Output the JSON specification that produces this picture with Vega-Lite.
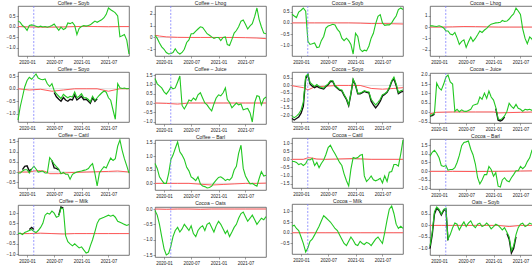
{
"$schema":"https://vega.github.io/schema/vega-lite/v6.json",
"padding":{"left":1,"top":0,"right":0,"bottom":0},
"background":"white",
"data":{"format":{"parse":{"d":"utc:'%Y-%m-%d'"}},"values":[
{"p":1,"d":"2019-11-01","g":0.27,"r":0},{"p":1,"d":"2019-11-16","g":0.2},{"p":1,"d":"2019-12-01","g":0.05},{"p":1,"d":"2019-12-16","g":-0.03},{"p":1,"d":"2020-01-01","g":-0.18},{"p":1,"d":"2020-01-16","g":0.05,"r":-0.02},{"p":1,"d":"2020-02-01","g":0.08},{"p":1,"d":"2020-02-16","g":0.05},{"p":1,"d":"2020-03-01","g":0.02},{"p":1,"d":"2020-03-16","g":-0.02},{"p":1,"d":"2020-04-01","g":0.02,"r":-0.03},{"p":1,"d":"2020-04-16","g":-0.02},{"p":1,"d":"2020-05-01","g":0},{"p":1,"d":"2020-05-16","g":-0.03},{"p":1,"d":"2020-06-01","g":0},{"p":1,"d":"2020-06-16","g":0.05,"r":-0.03},{"p":1,"d":"2020-07-01","g":0.12},{"p":1,"d":"2020-07-16","g":-0.03},{"p":1,"d":"2020-08-01","g":-0.18},{"p":1,"d":"2020-08-16","g":-0.03},{"p":1,"d":"2020-09-01","g":-0.14,"r":-0.02},{"p":1,"d":"2020-09-16","g":-0.08},{"p":1,"d":"2020-10-01","g":0.17},{"p":1,"d":"2020-10-16","g":0.14},{"p":1,"d":"2020-11-01","g":0.2},{"p":1,"d":"2020-11-16","g":0.05,"r":0},{"p":1,"d":"2020-12-01","g":-0.38},{"p":1,"d":"2020-12-16","g":-0.08},{"p":1,"d":"2021-01-01","g":0},{"p":1,"d":"2021-01-16","g":0.05},{"p":1,"d":"2021-02-01","g":0.02,"r":0.01},{"p":1,"d":"2021-02-16","g":0.05},{"p":1,"d":"2021-03-01","g":0.08},{"p":1,"d":"2021-03-16","g":0.17},{"p":1,"d":"2021-04-01","g":0.26},{"p":1,"d":"2021-04-16","g":0.2,"r":0},{"p":1,"d":"2021-05-01","g":0.26},{"p":1,"d":"2021-05-16","g":0.32},{"p":1,"d":"2021-06-01","g":0.42},{"p":1,"d":"2021-06-16","g":0.58},{"p":1,"d":"2021-07-01","g":0.88,"r":-0.01},{"p":1,"d":"2021-07-16","g":0.8},{"p":1,"d":"2021-08-01","g":0.73},{"p":1,"d":"2021-08-16","g":0.65},{"p":1,"d":"2021-09-01","g":0.5},{"p":1,"d":"2021-09-16","g":-0.48,"r":0},{"p":1,"d":"2021-10-01","g":-0.44},{"p":1,"d":"2021-10-16","g":-0.38},{"p":1,"d":"2021-11-01","g":-0.64},{"p":1,"d":"2021-11-16","g":-1.3,"r":0},
{"p":2,"d":"2019-11-01","g":0.19,"r":0.19},{"p":2,"d":"2019-11-16","g":-0.08},{"p":2,"d":"2019-12-01","g":-0.48,"r":0.12},{"p":2,"d":"2019-12-16","g":-0.8},{"p":2,"d":"2020-01-01","g":-1.01},{"p":2,"d":"2020-01-16","g":-1.28,"r":0.05},{"p":2,"d":"2020-02-01","g":-1.41},{"p":2,"d":"2020-02-16","g":-1.36},{"p":2,"d":"2020-03-01","g":-1.28},{"p":2,"d":"2020-03-16","g":-0.96},{"p":2,"d":"2020-04-01","g":-1.28,"r":0.01},{"p":2,"d":"2020-04-16","g":-1.41},{"p":2,"d":"2020-05-01","g":-1.28},{"p":2,"d":"2020-05-16","g":-1.01},{"p":2,"d":"2020-06-01","g":-0.43},{"p":2,"d":"2020-06-16","g":-0.21,"r":0},{"p":2,"d":"2020-07-01","g":0.32},{"p":2,"d":"2020-07-16","g":0.32},{"p":2,"d":"2020-08-01","g":0.53},{"p":2,"d":"2020-08-16","g":0.72},{"p":2,"d":"2020-09-01","g":0.91,"r":0},{"p":2,"d":"2020-09-16","g":0.85},{"p":2,"d":"2020-10-01","g":0.59},{"p":2,"d":"2020-10-16","g":0.32},{"p":2,"d":"2020-11-01","g":0.19},{"p":2,"d":"2020-11-16","g":0.05,"r":0},{"p":2,"d":"2020-12-01","g":-0.08},{"p":2,"d":"2020-12-16","g":0},{"p":2,"d":"2021-01-01","g":0},{"p":2,"d":"2021-01-16","g":-0.27},{"p":2,"d":"2021-02-01","g":0,"r":0},{"p":2,"d":"2021-02-16","g":0.05},{"p":2,"d":"2021-03-01","g":-0.61},{"p":2,"d":"2021-03-16","g":-0.69},{"p":2,"d":"2021-04-01","g":-0.16},{"p":2,"d":"2021-04-16","g":0.37,"r":0},{"p":2,"d":"2021-05-01","g":0.59},{"p":2,"d":"2021-05-16","g":0.91},{"p":2,"d":"2021-06-01","g":1.39},{"p":2,"d":"2021-06-16","g":1.49},{"p":2,"d":"2021-07-01","g":1.12,"r":-0.02},{"p":2,"d":"2021-07-16","g":0.72},{"p":2,"d":"2021-08-01","g":0.99},{"p":2,"d":"2021-08-16","g":1.17},{"p":2,"d":"2021-09-01","g":1.79},{"p":2,"d":"2021-09-16","g":2.51,"r":-0.05},{"p":2,"d":"2021-10-01","g":1.52},{"p":2,"d":"2021-10-16","g":0.91},{"p":2,"d":"2021-11-01","g":0.37},{"p":2,"d":"2021-11-16","g":0.32,"r":-0.1},
{"p":3,"d":"2019-11-01","g":0.39,"r":0},{"p":3,"d":"2019-11-16","g":0.31},{"p":3,"d":"2019-12-01","g":0.24},{"p":3,"d":"2019-12-16","g":0.49},{"p":3,"d":"2020-01-01","g":0.57},{"p":3,"d":"2020-01-16","g":0.67,"r":0},{"p":3,"d":"2020-02-01","g":0.53},{"p":3,"d":"2020-02-16","g":-0.83},{"p":3,"d":"2020-03-01","g":-0.97},{"p":3,"d":"2020-03-16","g":-0.94},{"p":3,"d":"2020-04-01","g":-0.9,"r":0},{"p":3,"d":"2020-04-16","g":-1.11},{"p":3,"d":"2020-05-01","g":-1.09},{"p":3,"d":"2020-05-16","g":-0.8},{"p":3,"d":"2020-06-01","g":-0.61},{"p":3,"d":"2020-06-16","g":-0.23,"r":0},{"p":3,"d":"2020-07-01","g":-0.14},{"p":3,"d":"2020-07-16","g":-0.11},{"p":3,"d":"2020-08-01","g":-0.06},{"p":3,"d":"2020-08-16","g":-0.09},{"p":3,"d":"2020-09-01","g":-0.29,"r":0},{"p":3,"d":"2020-09-16","g":-0.4},{"p":3,"d":"2020-10-01","g":-0.69},{"p":3,"d":"2020-10-16","g":-0.8},{"p":3,"d":"2020-11-01","g":-0.69},{"p":3,"d":"2020-11-16","g":-0.8,"r":0},{"p":3,"d":"2020-12-01","g":-0.97},{"p":3,"d":"2020-12-16","g":-1.4},{"p":3,"d":"2021-01-01","g":-0.47},{"p":3,"d":"2021-01-16","g":-0.61},{"p":3,"d":"2021-02-01","g":-1.19,"r":-0.01},{"p":3,"d":"2021-02-16","g":-1.29},{"p":3,"d":"2021-03-01","g":-1.23},{"p":3,"d":"2021-03-16","g":-1.26},{"p":3,"d":"2021-04-01","g":-1.04},{"p":3,"d":"2021-04-16","g":-0.69,"r":-0.03},{"p":3,"d":"2021-05-01","g":-0.47},{"p":3,"d":"2021-05-16","g":-0.04},{"p":3,"d":"2021-06-01","g":0.29},{"p":3,"d":"2021-06-16","g":0.37},{"p":3,"d":"2021-07-01","g":0,"r":-0.03},{"p":3,"d":"2021-07-16","g":-0.11},{"p":3,"d":"2021-08-01","g":-0.09},{"p":3,"d":"2021-08-16","g":-0.09},{"p":3,"d":"2021-09-01","g":0},{"p":3,"d":"2021-09-16","g":0.17,"r":-0.04},{"p":3,"d":"2021-10-01","g":0.31},{"p":3,"d":"2021-10-16","g":0.6},{"p":3,"d":"2021-11-01","g":0.67},{"p":3,"d":"2021-11-16","g":0.6,"r":-0.05},
{"p":4,"d":"2019-11-01","g":0.11,"r":0},{"p":4,"d":"2019-11-16","g":0.11},{"p":4,"d":"2019-12-01","g":0.08},{"p":4,"d":"2019-12-16","g":0.05},{"p":4,"d":"2020-01-01","g":0.11},{"p":4,"d":"2020-01-16","g":0.05,"r":0},{"p":4,"d":"2020-02-01","g":-0.08},{"p":4,"d":"2020-02-16","g":-0.34},{"p":4,"d":"2020-03-01","g":-0.34},{"p":4,"d":"2020-03-16","g":-0.61},{"p":4,"d":"2020-04-01","g":-0.68,"r":0.02},{"p":4,"d":"2020-04-16","g":-0.47},{"p":4,"d":"2020-05-01","g":-0.95},{"p":4,"d":"2020-05-16","g":-1.53},{"p":4,"d":"2020-06-01","g":-1.26},{"p":4,"d":"2020-06-16","g":-1.13,"r":0.05},{"p":4,"d":"2020-07-01","g":-1.79},{"p":4,"d":"2020-07-16","g":-1.32},{"p":4,"d":"2020-08-01","g":-0.87},{"p":4,"d":"2020-08-16","g":-1.26},{"p":4,"d":"2020-09-01","g":-1,"r":0.04},{"p":4,"d":"2020-09-16","g":-0.68},{"p":4,"d":"2020-10-01","g":-0.34},{"p":4,"d":"2020-10-16","g":-0.47},{"p":4,"d":"2020-11-01","g":-0.26},{"p":4,"d":"2020-11-16","g":-0.11,"r":0.02},{"p":4,"d":"2020-12-01","g":0.11},{"p":4,"d":"2020-12-16","g":0.26},{"p":4,"d":"2021-01-01","g":0.32},{"p":4,"d":"2021-01-16","g":0.37},{"p":4,"d":"2021-02-01","g":0.39,"r":0},{"p":4,"d":"2021-02-16","g":0.42},{"p":4,"d":"2021-03-01","g":0.58},{"p":4,"d":"2021-03-16","g":0.5},{"p":4,"d":"2021-04-01","g":0.53},{"p":4,"d":"2021-04-16","g":0.71,"r":0},{"p":4,"d":"2021-05-01","g":0.97},{"p":4,"d":"2021-05-16","g":1.16},{"p":4,"d":"2021-06-01","g":1.68},{"p":4,"d":"2021-06-16","g":1.42},{"p":4,"d":"2021-07-01","g":1.11,"r":0},{"p":4,"d":"2021-07-16","g":-0.16},{"p":4,"d":"2021-08-01","g":-1},{"p":4,"d":"2021-08-16","g":-1.47},{"p":4,"d":"2021-09-01","g":-0.87},{"p":4,"d":"2021-09-16","g":-1.05,"r":0},{"p":4,"d":"2021-10-01","g":-1.47},{"p":4,"d":"2021-10-16","g":-1.79},{"p":4,"d":"2021-11-01","g":-2},{"p":4,"d":"2021-11-16","g":-2.37,"r":0},
{"p":5,"d":"2019-11-01","g":-1.25,"r":0},{"p":5,"d":"2019-11-16","g":-0.72},{"p":5,"d":"2019-12-01","g":-0.33},{"p":5,"d":"2019-12-16","g":0.07},{"p":5,"d":"2020-01-01","g":0.33},{"p":5,"d":"2020-01-16","g":0.46,"r":-0.05},{"p":5,"d":"2020-02-01","g":0.38},{"p":5,"d":"2020-02-16","g":0.49},{"p":5,"d":"2020-03-01","g":0.59},{"p":5,"d":"2020-03-16","g":0.43},{"p":5,"d":"2020-04-01","g":0.38,"r":-0.02},{"p":5,"d":"2020-04-16","g":0.36},{"p":5,"d":"2020-05-01","g":0.39},{"p":5,"d":"2020-05-16","g":0.2},{"p":5,"d":"2020-06-01","g":0.09},{"p":5,"d":"2020-06-16","g":0.2,"r":-0.1},{"p":5,"d":"2020-07-01","g":-0.07,"k":-0.15},{"p":5,"d":"2020-07-16","g":-0.2,"k":-0.32},{"p":5,"d":"2020-08-01","g":-0.3,"k":-0.42},{"p":5,"d":"2020-08-16","g":-0.39,"k":-0.5},{"p":5,"d":"2020-09-01","g":-0.22,"r":-0.05,"k":-0.35},{"p":5,"d":"2020-09-16","g":-0.3,"k":-0.45},{"p":5,"d":"2020-10-01","g":-0.36,"k":-0.5},{"p":5,"d":"2020-10-16","g":-0.3,"k":-0.42},{"p":5,"d":"2020-11-01","g":-0.33,"k":-0.45},{"p":5,"d":"2020-11-16","g":-0.13,"r":0,"k":-0.25},{"p":5,"d":"2020-12-01","g":-0.36,"k":-0.45},{"p":5,"d":"2020-12-16","g":-0.3,"k":-0.38},{"p":5,"d":"2021-01-01","g":-0.2,"k":-0.3},{"p":5,"d":"2021-01-16","g":-0.36,"k":-0.44},{"p":5,"d":"2021-02-01","g":-0.36,"r":0,"k":-0.42},{"p":5,"d":"2021-02-16","g":-0.43,"k":-0.5},{"p":5,"d":"2021-03-01","g":-0.53,"k":-0.58},{"p":5,"d":"2021-03-16","g":-0.3,"k":-0.36},{"p":5,"d":"2021-04-01","g":-0.46,"k":-0.5},{"p":5,"d":"2021-04-16","g":-0.36,"r":0,"k":-0.4},{"p":5,"d":"2021-05-01","g":-0.26},{"p":5,"d":"2021-05-16","g":-0.17},{"p":5,"d":"2021-06-01","g":-0.09},{"p":5,"d":"2021-06-16","g":-0.14},{"p":5,"d":"2021-07-01","g":-0.36,"r":-0.1},{"p":5,"d":"2021-07-16","g":-0.46},{"p":5,"d":"2021-08-01","g":-0.86},{"p":5,"d":"2021-08-16","g":-1.22},{"p":5,"d":"2021-09-01","g":0.2},{"p":5,"d":"2021-09-16","g":0.04,"r":0},{"p":5,"d":"2021-10-01","g":0.01},{"p":5,"d":"2021-10-16","g":0.03},{"p":5,"d":"2021-11-01","g":0},{"p":5,"d":"2021-11-16","g":0.01,"r":0},
{"p":6,"d":"2019-11-01","g":1.32,"r":0},{"p":6,"d":"2019-11-16","g":1.03},{"p":6,"d":"2019-12-01","g":0.92},{"p":6,"d":"2019-12-16","g":0.81},{"p":6,"d":"2020-01-01","g":0.6},{"p":6,"d":"2020-01-16","g":0.48,"r":-0.02},{"p":6,"d":"2020-02-01","g":0.65},{"p":6,"d":"2020-02-16","g":0.87},{"p":6,"d":"2020-03-01","g":0.76},{"p":6,"d":"2020-03-16","g":0.81},{"p":6,"d":"2020-04-01","g":1.13,"r":-0.06},{"p":6,"d":"2020-04-16","g":1.45},{"p":6,"d":"2020-05-01","g":-0.13},{"p":6,"d":"2020-05-16","g":-0.32},{"p":6,"d":"2020-06-01","g":-0.1},{"p":6,"d":"2020-06-16","g":0.16,"r":0},{"p":6,"d":"2020-07-01","g":0.11},{"p":6,"d":"2020-07-16","g":0.27},{"p":6,"d":"2020-08-01","g":0.16},{"p":6,"d":"2020-08-16","g":0.44},{"p":6,"d":"2020-09-01","g":0.55,"r":0},{"p":6,"d":"2020-09-16","g":0.27},{"p":6,"d":"2020-10-01","g":0},{"p":6,"d":"2020-10-16","g":-0.1},{"p":6,"d":"2020-11-01","g":-0.29},{"p":6,"d":"2020-11-16","g":-0.42,"r":0},{"p":6,"d":"2020-12-01","g":-0.05},{"p":6,"d":"2020-12-16","g":0.27},{"p":6,"d":"2021-01-01","g":0.44},{"p":6,"d":"2021-01-16","g":0.39},{"p":6,"d":"2021-02-01","g":0.55,"r":0},{"p":6,"d":"2021-02-16","g":0.81},{"p":6,"d":"2021-03-01","g":0.19},{"p":6,"d":"2021-03-16","g":0.03},{"p":6,"d":"2021-04-01","g":-0.26},{"p":6,"d":"2021-04-16","g":-0.13,"r":0},{"p":6,"d":"2021-05-01","g":0},{"p":6,"d":"2021-05-16","g":-0.1},{"p":6,"d":"2021-06-01","g":-0.05},{"p":6,"d":"2021-06-16","g":-0.37},{"p":6,"d":"2021-07-01","g":-0.32,"r":0},{"p":6,"d":"2021-07-16","g":-0.29},{"p":6,"d":"2021-08-01","g":-0.53},{"p":6,"d":"2021-08-16","g":-1.02},{"p":6,"d":"2021-09-01","g":0.03},{"p":6,"d":"2021-09-16","g":0.39,"r":0},{"p":6,"d":"2021-10-01","g":0.35},{"p":6,"d":"2021-10-16","g":-0.1},{"p":6,"d":"2021-11-01","g":0.23},{"p":6,"d":"2021-11-16","g":0.32,"r":0},
{"p":7,"d":"2019-11-01","g":-2.04,"r":-0.02,"k":-2.2},{"p":7,"d":"2019-11-16","g":-2.14,"k":-2.3},{"p":7,"d":"2019-12-01","g":-2.04,"k":-2.2},{"p":7,"d":"2019-12-16","g":-1.9,"k":-2.1},{"p":7,"d":"2020-01-01","g":-1.63,"k":-1.85},{"p":7,"d":"2020-01-16","g":-1.12,"r":-0.15,"k":-1.4},{"p":7,"d":"2020-02-01","g":0.61,"k":0.45},{"p":7,"d":"2020-02-16","g":0.76,"r":-0.3,"k":0.7},{"p":7,"d":"2020-03-01","g":0.2,"k":0.1},{"p":7,"d":"2020-03-16","g":0.06,"k":-0.05},{"p":7,"d":"2020-04-01","g":-0.06,"r":-0.1,"k":-0.15},{"p":7,"d":"2020-04-16","g":0.06,"k":-0.05},{"p":7,"d":"2020-05-01","g":-0.06,"k":-0.15},{"p":7,"d":"2020-05-16","g":-0.14,"k":-0.2},{"p":7,"d":"2020-06-01","g":-0.18,"k":-0.23},{"p":7,"d":"2020-06-16","g":-0.02,"r":-0.05,"k":-0.07},{"p":7,"d":"2020-07-01","g":0.1,"k":0.05},{"p":7,"d":"2020-07-16","g":0.31,"k":0.26},{"p":7,"d":"2020-08-01","g":0.31,"k":0.26},{"p":7,"d":"2020-08-16","g":0,"k":-0.05},{"p":7,"d":"2020-09-01","g":-0.14,"r":0,"k":-0.19},{"p":7,"d":"2020-09-16","g":-0.27,"k":-0.32},{"p":7,"d":"2020-10-01","g":-0.31,"k":-0.36},{"p":7,"d":"2020-10-16","g":-0.61,"k":-0.66},{"p":7,"d":"2020-11-01","g":-0.88,"k":-0.93},{"p":7,"d":"2020-11-16","g":-1.29,"r":0,"k":-1.34},{"p":7,"d":"2020-12-01","g":-0.51,"k":-0.56},{"p":7,"d":"2020-12-16","g":0.41,"k":0.36},{"p":7,"d":"2021-01-01","g":0.06,"k":0.01},{"p":7,"d":"2021-01-16","g":-0.51,"k":-0.56},{"p":7,"d":"2021-02-01","g":-0.51,"r":0,"k":-0.56},{"p":7,"d":"2021-02-16","g":-0.43,"k":-0.48},{"p":7,"d":"2021-03-01","g":-0.35,"k":-0.4},{"p":7,"d":"2021-03-16","g":-0.41,"k":-0.46},{"p":7,"d":"2021-04-01","g":-0.43,"k":-0.5},{"p":7,"d":"2021-04-16","g":-0.92,"r":-0.2,"k":-1.05},{"p":7,"d":"2021-05-01","g":-1.12,"k":-1.3},{"p":7,"d":"2021-05-16","g":-1.29,"k":-1.5},{"p":7,"d":"2021-06-01","g":-1.12,"k":-1.3},{"p":7,"d":"2021-06-16","g":-0.92,"k":-1.05},{"p":7,"d":"2021-07-01","g":-0.61,"r":-0.25,"k":-0.7},{"p":7,"d":"2021-07-16","g":-0.55,"k":-0.6},{"p":7,"d":"2021-08-01","g":-0.41,"k":-0.46},{"p":7,"d":"2021-08-16","g":-0.14,"k":-0.19},{"p":7,"d":"2021-09-01","g":0.31,"k":0.25},{"p":7,"d":"2021-09-16","g":0.55,"r":-0.2,"k":0.45},{"p":7,"d":"2021-10-01","g":0.1,"k":0},{"p":7,"d":"2021-10-16","g":-0.47,"k":-0.55},{"p":7,"d":"2021-11-01","g":-0.35,"k":-0.45},{"p":7,"d":"2021-11-16","g":-0.31,"r":-0.15,"k":-0.4},
{"p":8,"d":"2019-11-01","g":-0.16,"r":-0.08,"k":-0.2},{"p":8,"d":"2019-11-16","g":-0.13,"k":-0.17},{"p":8,"d":"2019-12-01","g":-0.03,"k":-0.1},{"p":8,"d":"2019-12-16","g":1.55,"r":0},{"p":8,"d":"2020-01-01","g":1.29},{"p":8,"d":"2020-01-16","g":1.18},{"p":8,"d":"2020-02-01","g":1.5},{"p":8,"d":"2020-02-16","g":1.87},{"p":8,"d":"2020-03-01","g":1.98},{"p":8,"d":"2020-03-16","g":1.61},{"p":8,"d":"2020-04-01","g":1.5,"r":0.02},{"p":8,"d":"2020-04-16","g":0.05},{"p":8,"d":"2020-05-01","g":0.16},{"p":8,"d":"2020-05-16","g":0.03},{"p":8,"d":"2020-06-01","g":0.13},{"p":8,"d":"2020-06-16","g":0.06},{"p":8,"d":"2020-07-01","g":0.05},{"p":8,"d":"2020-07-16","g":0.1},{"p":8,"d":"2020-08-01","g":0.16},{"p":8,"d":"2020-08-16","g":0.37},{"p":8,"d":"2020-09-01","g":0.42,"r":0.02},{"p":8,"d":"2020-09-16","g":0.45},{"p":8,"d":"2020-10-01","g":0.81},{"p":8,"d":"2020-10-16","g":0.69},{"p":8,"d":"2020-11-01","g":1.02},{"p":8,"d":"2020-11-16","g":0.74},{"p":8,"d":"2020-12-01","g":1.13},{"p":8,"d":"2020-12-16","g":0.81},{"p":8,"d":"2021-01-01","g":0.65,"r":0.02},{"p":8,"d":"2021-01-16","g":0.26,"k":0.2},{"p":8,"d":"2021-02-01","g":-0.35,"r":-0.03,"k":-0.42},{"p":8,"d":"2021-02-16","g":-0.39,"k":-0.46},{"p":8,"d":"2021-03-01","g":-0.32,"k":-0.4},{"p":8,"d":"2021-03-16","g":-0.19,"k":-0.25},{"p":8,"d":"2021-04-01","g":0.05},{"p":8,"d":"2021-04-16","g":0.48},{"p":8,"d":"2021-05-01","g":0.32},{"p":8,"d":"2021-05-16","g":0.21},{"p":8,"d":"2021-06-01","g":0.42},{"p":8,"d":"2021-06-16","g":0.21},{"p":8,"d":"2021-07-01","g":0.16,"r":0},{"p":8,"d":"2021-07-16","g":0.05},{"p":8,"d":"2021-08-01","g":0.16},{"p":8,"d":"2021-08-16","g":0.13},{"p":8,"d":"2021-09-01","g":0.16},{"p":8,"d":"2021-09-16","g":0.1},{"p":8,"d":"2021-10-01","g":0.21},{"p":8,"d":"2021-10-16","g":0.13},{"p":8,"d":"2021-11-01","g":0.16},{"p":8,"d":"2021-11-16","g":-0.03,"r":0.03},
{"p":9,"d":"2019-11-01","g":-0.05,"r":0},{"p":9,"d":"2019-11-16","g":-0.05},{"p":9,"d":"2019-12-01","g":0.05,"k":0.12},{"p":9,"d":"2019-12-16","g":0.11,"k":0.28},{"p":9,"d":"2020-01-01","g":0.11,"k":0.3},{"p":9,"d":"2020-01-16","g":-0.05,"r":0,"k":0.05},{"p":9,"d":"2020-02-01","g":0.15,"k":0.15},{"p":9,"d":"2020-02-16","g":0.29,"r":0.05},{"p":9,"d":"2020-03-01","g":0.15},{"p":9,"d":"2020-03-16","g":0},{"p":9,"d":"2020-04-01","g":0.03,"r":0.07},{"p":9,"d":"2020-04-16","g":0.05},{"p":9,"d":"2020-05-01","g":-0.05,"r":0.03},{"p":9,"d":"2020-05-16","g":-0.05},{"p":9,"d":"2020-06-01","g":0.7,"r":-0.08},{"p":9,"d":"2020-06-16","g":0.56,"k":0.56},{"p":9,"d":"2020-07-01","g":0.38,"k":0.2},{"p":9,"d":"2020-07-16","g":0.26,"k":0.18},{"p":9,"d":"2020-08-01","g":0.15,"r":-0.08,"k":0.1},{"p":9,"d":"2020-08-16","g":-0.08},{"p":9,"d":"2020-09-01","g":-0.02},{"p":9,"d":"2020-09-16","g":-0.11},{"p":9,"d":"2020-10-01","g":-0.11,"r":-0.03},{"p":9,"d":"2020-10-16","g":-0.35},{"p":9,"d":"2020-11-01","g":-0.11},{"p":9,"d":"2020-11-16","g":-0.05},{"p":9,"d":"2020-12-01","g":0},{"p":9,"d":"2020-12-16","g":0.03},{"p":9,"d":"2021-01-01","g":0.05},{"p":9,"d":"2021-01-16","g":0.08},{"p":9,"d":"2021-02-01","g":0.11,"r":0},{"p":9,"d":"2021-02-16","g":0.17},{"p":9,"d":"2021-03-01","g":0.3},{"p":9,"d":"2021-03-16","g":0.41},{"p":9,"d":"2021-04-01","g":-0.08},{"p":9,"d":"2021-04-16","g":-0.68},{"p":9,"d":"2021-05-01","g":-0.05},{"p":9,"d":"2021-05-16","g":0.11},{"p":9,"d":"2021-06-01","g":0.26},{"p":9,"d":"2021-06-16","g":0.2},{"p":9,"d":"2021-07-01","g":0.45,"r":0.03},{"p":9,"d":"2021-07-16","g":0.68},{"p":9,"d":"2021-08-01","g":0.56},{"p":9,"d":"2021-08-16","g":0.65},{"p":9,"d":"2021-09-01","g":1.26,"r":0.05},{"p":9,"d":"2021-09-16","g":1.56},{"p":9,"d":"2021-10-01","g":1.06},{"p":9,"d":"2021-10-16","g":0.65},{"p":9,"d":"2021-11-01","g":0.3},{"p":9,"d":"2021-11-16","g":-0.05,"r":0},
{"p":10,"d":"2019-11-01","g":0.73,"r":0},{"p":10,"d":"2019-11-16","g":0.55},{"p":10,"d":"2019-12-01","g":0.24},{"p":10,"d":"2019-12-16","g":0.12},{"p":10,"d":"2020-01-01","g":0},{"p":10,"d":"2020-01-16","g":0,"r":0},{"p":10,"d":"2020-02-01","g":0.37},{"p":10,"d":"2020-02-16","g":0.88},{"p":10,"d":"2020-03-01","g":1.04},{"p":10,"d":"2020-03-16","g":1.28},{"p":10,"d":"2020-04-01","g":1.52,"r":0},{"p":10,"d":"2020-04-16","g":1.16},{"p":10,"d":"2020-05-01","g":1.04},{"p":10,"d":"2020-05-16","g":0.88},{"p":10,"d":"2020-06-01","g":0.59},{"p":10,"d":"2020-06-16","g":0.46,"r":0},{"p":10,"d":"2020-07-01","g":0.24},{"p":10,"d":"2020-07-16","g":0.18},{"p":10,"d":"2020-08-01","g":0.1},{"p":10,"d":"2020-08-16","g":0.24},{"p":10,"d":"2020-09-01","g":-0.02,"r":-0.03},{"p":10,"d":"2020-09-16","g":-0.1},{"p":10,"d":"2020-10-01","g":-0.12},{"p":10,"d":"2020-10-16","g":-0.17},{"p":10,"d":"2020-11-01","g":-0.15},{"p":10,"d":"2020-11-16","g":-0.1,"r":-0.06},{"p":10,"d":"2020-12-01","g":0.02},{"p":10,"d":"2020-12-16","g":0.12},{"p":10,"d":"2021-01-01","g":0.22},{"p":10,"d":"2021-01-16","g":0.24},{"p":10,"d":"2021-02-01","g":0.18,"r":-0.04},{"p":10,"d":"2021-02-16","g":0.1},{"p":10,"d":"2021-03-01","g":0.15},{"p":10,"d":"2021-03-16","g":0.12},{"p":10,"d":"2021-04-01","g":0.22},{"p":10,"d":"2021-04-16","g":0.49,"r":-0.02},{"p":10,"d":"2021-05-01","g":0.63},{"p":10,"d":"2021-05-16","g":1.1},{"p":10,"d":"2021-06-01","g":1.4},{"p":10,"d":"2021-06-16","g":0.55},{"p":10,"d":"2021-07-01","g":0.27,"r":0},{"p":10,"d":"2021-07-16","g":0.12},{"p":10,"d":"2021-08-01","g":-0.02},{"p":10,"d":"2021-08-16","g":0},{"p":10,"d":"2021-09-01","g":-0.06},{"p":10,"d":"2021-09-16","g":-0.1,"r":0},{"p":10,"d":"2021-10-01","g":0.18},{"p":10,"d":"2021-10-16","g":0.43},{"p":10,"d":"2021-11-01","g":0.27},{"p":10,"d":"2021-11-16","g":0.3,"r":0.01},
{"p":11,"d":"2019-11-01","g":-0.13,"r":0},{"p":11,"d":"2019-11-16","g":-0.13},{"p":11,"d":"2019-12-01","g":-0.19},{"p":11,"d":"2019-12-16","g":-0.32},{"p":11,"d":"2020-01-01","g":-0.26},{"p":11,"d":"2020-01-16","g":-0.38,"r":0},{"p":11,"d":"2020-02-01","g":-0.26},{"p":11,"d":"2020-02-16","g":0,"r":0.1},{"p":11,"d":"2020-03-01","g":-0.04},{"p":11,"d":"2020-03-16","g":0.06,"r":0.08},{"p":11,"d":"2020-04-01","g":-0.38},{"p":11,"d":"2020-04-16","g":-0.19,"r":0.02},{"p":11,"d":"2020-05-01","g":-0.51},{"p":11,"d":"2020-05-16","g":-0.26},{"p":11,"d":"2020-06-01","g":-0.04},{"p":11,"d":"2020-06-16","g":0.3,"r":0},{"p":11,"d":"2020-07-01","g":0.72},{"p":11,"d":"2020-07-16","g":0.87},{"p":11,"d":"2020-08-01","g":0.57},{"p":11,"d":"2020-08-16","g":0.34},{"p":11,"d":"2020-09-01","g":0.06},{"p":11,"d":"2020-09-16","g":-0.19},{"p":11,"d":"2020-10-01","g":-0.38},{"p":11,"d":"2020-10-16","g":-0.89},{"p":11,"d":"2020-11-01","g":-1.32},{"p":11,"d":"2020-11-16","g":-1.64},{"p":11,"d":"2020-12-01","g":-0.6},{"p":11,"d":"2020-12-16","g":0.11,"r":0.05},{"p":11,"d":"2021-01-01","g":0.06},{"p":11,"d":"2021-01-16","g":0.11},{"p":11,"d":"2021-02-01","g":0.25,"r":0.03},{"p":11,"d":"2021-02-16","g":0.3},{"p":11,"d":"2021-03-01","g":-1.02},{"p":11,"d":"2021-03-16","g":-1.36},{"p":11,"d":"2021-04-01","g":-1.21},{"p":11,"d":"2021-04-16","g":-1.02,"r":0},{"p":11,"d":"2021-05-01","g":-1.26},{"p":11,"d":"2021-05-16","g":-1.32},{"p":11,"d":"2021-06-01","g":-1.26},{"p":11,"d":"2021-06-16","g":-1.17},{"p":11,"d":"2021-07-01","g":-1.45},{"p":11,"d":"2021-07-16","g":-1.02},{"p":11,"d":"2021-08-01","g":-1.36},{"p":11,"d":"2021-08-16","g":-0.79},{"p":11,"d":"2021-09-01","g":-0.75},{"p":11,"d":"2021-09-16","g":-0.32},{"p":11,"d":"2021-10-01","g":-0.32},{"p":11,"d":"2021-10-16","g":-0.42},{"p":11,"d":"2021-11-01","g":0.34},{"p":11,"d":"2021-11-16","g":1.19,"r":0},
{"p":12,"d":"2019-11-01","g":0.86,"r":-0.02},{"p":12,"d":"2019-11-16","g":1.09},{"p":12,"d":"2019-12-01","g":1.21},{"p":12,"d":"2019-12-16","g":1.04},{"p":12,"d":"2020-01-01","g":0.77},{"p":12,"d":"2020-01-16","g":0.32},{"p":12,"d":"2020-02-01","g":0.27},{"p":12,"d":"2020-02-16","g":0.32},{"p":12,"d":"2020-03-01","g":0.05},{"p":12,"d":"2020-03-16","g":0.09},{"p":12,"d":"2020-04-01","g":0.09,"r":-0.02},{"p":12,"d":"2020-04-16","g":0.2},{"p":12,"d":"2020-05-01","g":0.5},{"p":12,"d":"2020-05-16","g":0.91},{"p":12,"d":"2020-06-01","g":1.48},{"p":12,"d":"2020-06-16","g":1.66},{"p":12,"d":"2020-07-01","g":1.7},{"p":12,"d":"2020-07-16","g":1.75},{"p":12,"d":"2020-08-01","g":1.27},{"p":12,"d":"2020-08-16","g":0.95},{"p":12,"d":"2020-09-01","g":0.41,"r":-0.03},{"p":12,"d":"2020-09-16","g":-0.39},{"p":12,"d":"2020-10-01","g":-0.75},{"p":12,"d":"2020-10-16","g":-0.52},{"p":12,"d":"2020-11-01","g":-0.21},{"p":12,"d":"2020-11-16","g":-0.21},{"p":12,"d":"2020-12-01","g":0.27},{"p":12,"d":"2020-12-16","g":0.09},{"p":12,"d":"2021-01-01","g":-0.3},{"p":12,"d":"2021-01-16","g":-0.09},{"p":12,"d":"2021-02-01","g":-0.88,"r":-0.02},{"p":12,"d":"2021-02-16","g":-0.93},{"p":12,"d":"2021-03-01","g":-0.52},{"p":12,"d":"2021-03-16","g":-0.39},{"p":12,"d":"2021-04-01","g":-0.57},{"p":12,"d":"2021-04-16","g":-0.63},{"p":12,"d":"2021-05-01","g":-0.39},{"p":12,"d":"2021-05-16","g":-0.21},{"p":12,"d":"2021-06-01","g":0.02},{"p":12,"d":"2021-06-16","g":0.02},{"p":12,"d":"2021-07-01","g":0.27,"r":0},{"p":12,"d":"2021-07-16","g":0.14},{"p":12,"d":"2021-08-01","g":0.27},{"p":12,"d":"2021-08-16","g":0.55},{"p":12,"d":"2021-09-01","g":0.77},{"p":12,"d":"2021-09-16","g":1.21},{"p":12,"d":"2021-10-01","g":1.13},{"p":12,"d":"2021-10-16","g":0.86},{"p":12,"d":"2021-11-01","g":0.59},{"p":12,"d":"2021-11-16","g":0.91,"r":0.02},
{"p":13,"d":"2019-11-01","g":0,"r":0},{"p":13,"d":"2019-11-16","g":0.02},{"p":13,"d":"2019-12-01","g":-0.05},{"p":13,"d":"2019-12-16","g":0.05},{"p":13,"d":"2020-01-01","g":0.1},{"p":13,"d":"2020-01-16","g":0.15,"r":0,"k":0.2},{"p":13,"d":"2020-02-01","g":0.2,"k":0.3},{"p":13,"d":"2020-02-16","g":0.1,"k":0.2},{"p":13,"d":"2020-03-01","g":0.05},{"p":13,"d":"2020-03-16","g":0.15},{"p":13,"d":"2020-04-01","g":0.3,"r":0.02},{"p":13,"d":"2020-04-16","g":0.5},{"p":13,"d":"2020-05-01","g":0.9},{"p":13,"d":"2020-05-16","g":1},{"p":13,"d":"2020-06-01","g":0.95},{"p":13,"d":"2020-06-16","g":1.1,"r":0},{"p":13,"d":"2020-07-01","g":1},{"p":13,"d":"2020-07-16","g":0.8},{"p":13,"d":"2020-08-01","g":0.85,"k":0.9},{"p":13,"d":"2020-08-16","g":1.25,"k":1.3},{"p":13,"d":"2020-09-01","g":1.2,"r":-0.02,"k":1.25},{"p":13,"d":"2020-09-16","g":-0.1},{"p":13,"d":"2020-10-01","g":-0.4},{"p":13,"d":"2020-10-16","g":-0.5},{"p":13,"d":"2020-11-01","g":-0.6},{"p":13,"d":"2020-11-16","g":-0.5,"r":0},{"p":13,"d":"2020-12-01","g":-0.6},{"p":13,"d":"2020-12-16","g":-0.7},{"p":13,"d":"2021-01-01","g":-0.65},{"p":13,"d":"2021-01-16","g":-0.8},{"p":13,"d":"2021-02-01","g":-0.95,"r":0},{"p":13,"d":"2021-02-16","g":-0.9},{"p":13,"d":"2021-03-01","g":-0.6},{"p":13,"d":"2021-03-16","g":-0.3},{"p":13,"d":"2021-04-01","g":0.1},{"p":13,"d":"2021-04-16","g":0.5,"r":0},{"p":13,"d":"2021-05-01","g":0.7},{"p":13,"d":"2021-05-16","g":0.75},{"p":13,"d":"2021-06-01","g":0.8},{"p":13,"d":"2021-06-16","g":0.85},{"p":13,"d":"2021-07-01","g":0.9,"r":0},{"p":13,"d":"2021-07-16","g":0.85},{"p":13,"d":"2021-08-01","g":0.9},{"p":13,"d":"2021-08-16","g":0.8},{"p":13,"d":"2021-09-01","g":0.6},{"p":13,"d":"2021-09-16","g":0.55,"r":0},{"p":13,"d":"2021-10-01","g":0.5},{"p":13,"d":"2021-10-16","g":0.45},{"p":13,"d":"2021-11-01","g":0.4},{"p":13,"d":"2021-11-16","g":0.45,"r":0},
{"p":14,"d":"2019-11-01","g":-0.05,"r":0},{"p":14,"d":"2019-11-16","g":-0.2},{"p":14,"d":"2019-12-01","g":-0.5},{"p":14,"d":"2019-12-16","g":-0.9},{"p":14,"d":"2020-01-01","g":-1.3},{"p":14,"d":"2020-01-16","g":-1.5,"r":-0.01},{"p":14,"d":"2020-02-01","g":-1.45},{"p":14,"d":"2020-02-16","g":-1.2},{"p":14,"d":"2020-03-01","g":-0.9},{"p":14,"d":"2020-03-16","g":-0.7},{"p":14,"d":"2020-04-01","g":-0.6,"r":0},{"p":14,"d":"2020-04-16","g":-0.75},{"p":14,"d":"2020-05-01","g":-0.65},{"p":14,"d":"2020-05-16","g":-0.5},{"p":14,"d":"2020-06-01","g":-0.6},{"p":14,"d":"2020-06-16","g":-0.7,"r":0},{"p":14,"d":"2020-07-01","g":-0.55},{"p":14,"d":"2020-07-16","g":-0.8},{"p":14,"d":"2020-08-01","g":-0.9},{"p":14,"d":"2020-08-16","g":-0.7},{"p":14,"d":"2020-09-01","g":-0.6,"r":-0.01},{"p":14,"d":"2020-09-16","g":-0.55},{"p":14,"d":"2020-10-01","g":-0.7},{"p":14,"d":"2020-10-16","g":-0.5},{"p":14,"d":"2020-11-01","g":-0.45},{"p":14,"d":"2020-11-16","g":-0.6,"r":0},{"p":14,"d":"2020-12-01","g":-0.75},{"p":14,"d":"2020-12-16","g":-0.55},{"p":14,"d":"2021-01-01","g":-0.4},{"p":14,"d":"2021-01-16","g":-0.5},{"p":14,"d":"2021-02-01","g":-0.65,"r":0},{"p":14,"d":"2021-02-16","g":-0.8},{"p":14,"d":"2021-03-01","g":-0.7},{"p":14,"d":"2021-03-16","g":-0.9},{"p":14,"d":"2021-04-01","g":-0.75},{"p":14,"d":"2021-04-16","g":-0.6,"r":0},{"p":14,"d":"2021-05-01","g":-0.5},{"p":14,"d":"2021-05-16","g":-0.3},{"p":14,"d":"2021-06-01","g":-0.15},{"p":14,"d":"2021-06-16","g":-0.1},{"p":14,"d":"2021-07-01","g":-0.25,"r":0},{"p":14,"d":"2021-07-16","g":-0.4},{"p":14,"d":"2021-08-01","g":-0.3},{"p":14,"d":"2021-08-16","g":-0.2},{"p":14,"d":"2021-09-01","g":-0.35},{"p":14,"d":"2021-09-16","g":-0.5,"r":0},{"p":14,"d":"2021-10-01","g":-0.4},{"p":14,"d":"2021-10-16","g":-0.3},{"p":14,"d":"2021-11-01","g":-0.35},{"p":14,"d":"2021-11-16","g":-0.25,"r":0},
{"p":15,"d":"2019-11-01","g":0.3,"r":0},{"p":15,"d":"2019-11-16","g":0.35},{"p":15,"d":"2019-12-01","g":0.2},{"p":15,"d":"2019-12-16","g":0.1},{"p":15,"d":"2020-01-01","g":-0.2},{"p":15,"d":"2020-01-16","g":-0.5,"r":0},{"p":15,"d":"2020-02-01","g":-0.9},{"p":15,"d":"2020-02-16","g":-0.7},{"p":15,"d":"2020-03-01","g":-0.4},{"p":15,"d":"2020-03-16","g":-0.3},{"p":15,"d":"2020-04-01","g":-0.1,"r":0},{"p":15,"d":"2020-04-16","g":0.1},{"p":15,"d":"2020-05-01","g":0.3},{"p":15,"d":"2020-05-16","g":0.55},{"p":15,"d":"2020-06-01","g":0.8},{"p":15,"d":"2020-06-16","g":0.7,"r":0},{"p":15,"d":"2020-07-01","g":0.6},{"p":15,"d":"2020-07-16","g":0.5},{"p":15,"d":"2020-08-01","g":0.35},{"p":15,"d":"2020-08-16","g":0.2},{"p":15,"d":"2020-09-01","g":0.1,"r":0},{"p":15,"d":"2020-09-16","g":-0.1},{"p":15,"d":"2020-10-01","g":-0.3},{"p":15,"d":"2020-10-16","g":-0.5},{"p":15,"d":"2020-11-01","g":-0.6},{"p":15,"d":"2020-11-16","g":-0.4,"r":0},{"p":15,"d":"2020-12-01","g":-0.2},{"p":15,"d":"2020-12-16","g":-0.35},{"p":15,"d":"2021-01-01","g":-0.55},{"p":15,"d":"2021-01-16","g":-0.6},{"p":15,"d":"2021-02-01","g":-0.4,"r":0},{"p":15,"d":"2021-02-16","g":-0.5},{"p":15,"d":"2021-03-01","g":-0.55},{"p":15,"d":"2021-03-16","g":-0.45},{"p":15,"d":"2021-04-01","g":-0.5},{"p":15,"d":"2021-04-16","g":-0.6,"r":0},{"p":15,"d":"2021-05-01","g":-0.45},{"p":15,"d":"2021-05-16","g":-0.3},{"p":15,"d":"2021-06-01","g":-0.2},{"p":15,"d":"2021-06-16","g":-0.35},{"p":15,"d":"2021-07-01","g":-0.5,"r":0},{"p":15,"d":"2021-07-16","g":0},{"p":15,"d":"2021-08-01","g":0.6},{"p":15,"d":"2021-08-16","g":1.1},{"p":15,"d":"2021-09-01","g":1.25},{"p":15,"d":"2021-09-16","g":0.9,"r":0},{"p":15,"d":"2021-10-01","g":0.4},{"p":15,"d":"2021-10-16","g":0.2},{"p":15,"d":"2021-11-01","g":0.3},{"p":15,"d":"2021-11-16","g":0.2,"r":0},
{"p":16,"d":"2019-11-01","g":-0.9,"r":0,"k":-1},{"p":16,"d":"2019-11-16","g":-0.3,"k":-0.4},{"p":16,"d":"2019-12-01","g":0.6,"k":0.5},{"p":16,"d":"2019-12-16","g":0.8,"k":0.75},{"p":16,"d":"2020-01-01","g":0.7,"k":0.65},{"p":16,"d":"2020-01-16","g":0.5,"r":0,"k":0.45},{"p":16,"d":"2020-02-01","g":0.7,"k":0.65},{"p":16,"d":"2020-02-16","g":0.75,"k":0.7},{"p":16,"d":"2020-03-01","g":-0.6,"k":-0.65},{"p":16,"d":"2020-03-16","g":-0.4},{"p":16,"d":"2020-04-01","g":-0.1,"r":0},{"p":16,"d":"2020-04-16","g":0.1},{"p":16,"d":"2020-05-01","g":0.05},{"p":16,"d":"2020-05-16","g":-0.2},{"p":16,"d":"2020-06-01","g":0},{"p":16,"d":"2020-06-16","g":0.15,"r":0},{"p":16,"d":"2020-07-01","g":-0.05},{"p":16,"d":"2020-07-16","g":0.1},{"p":16,"d":"2020-08-01","g":0.2},{"p":16,"d":"2020-08-16","g":0},{"p":16,"d":"2020-09-01","g":-0.1,"r":0},{"p":16,"d":"2020-09-16","g":0.05},{"p":16,"d":"2020-10-01","g":0.1},{"p":16,"d":"2020-10-16","g":-0.05},{"p":16,"d":"2020-11-01","g":0},{"p":16,"d":"2020-11-16","g":0.1,"r":0},{"p":16,"d":"2020-12-01","g":0},{"p":16,"d":"2020-12-16","g":-0.15},{"p":16,"d":"2021-01-01","g":-0.05},{"p":16,"d":"2021-01-16","g":0.05},{"p":16,"d":"2021-02-01","g":0,"r":0},{"p":16,"d":"2021-02-16","g":-0.1},{"p":16,"d":"2021-03-01","g":-0.2},{"p":16,"d":"2021-03-16","g":-0.1},{"p":16,"d":"2021-04-01","g":-0.3,"k":-0.35},{"p":16,"d":"2021-04-16","g":-0.5,"r":-0.05,"k":-0.6},{"p":16,"d":"2021-05-01","g":-1.1,"k":-1.2},{"p":16,"d":"2021-05-16","g":-0.9,"k":-1},{"p":16,"d":"2021-06-01","g":-0.4,"k":-0.5},{"p":16,"d":"2021-06-16","g":-0.1},{"p":16,"d":"2021-07-01","g":0.05,"r":0},{"p":16,"d":"2021-07-16","g":0.1},{"p":16,"d":"2021-08-01","g":-0.05},{"p":16,"d":"2021-08-16","g":0},{"p":16,"d":"2021-09-01","g":0.1},{"p":16,"d":"2021-09-16","g":0.05,"r":0},{"p":16,"d":"2021-10-01","g":0.1},{"p":16,"d":"2021-10-16","g":0},{"p":16,"d":"2021-11-01","g":0.05},{"p":16,"d":"2021-11-16","g":0.1,"r":0}
]},
"facet":{"field":"p","type":"ordinal","title":null,"header":{"labelExpr":"['Coffee – Soyb','Coffee – Lhog','Cocoa – Soyb','Cocoa – Lhog','Coffee – Soyo','Coffee – Juice','Cocoa – Soyo','Cocoa – Juice','Coffee – Cattl','Coffee – Barl','Cocoa – Cattl','Cocoa – Barl','Coffee – Milk','Cocoa – Oats','Cocoa – Milk','Oats – Soyb'][datum.value-1]"}},
"columns":4,
"spacing":{"row":2,"column":6},
"resolve":{"scale":{"y":"independent"},"axis":{"x":"independent","y":"independent"}},
"spec":{
"width":111,"height":50,
"layer":[
{"transform":[{"aggregate":[{"op":"count","as":"n"}],"groupby":["p"]}],"mark":{"type":"rule","color":"#c8c8c8","strokeWidth":0.6},"encoding":{"y":{"datum":0,"type":"quantitative"}}},
{"transform":[{"filter":"isValid(datum.r)"}],"mark":{"type":"line","color":"#ff5a5a","strokeWidth":1},"encoding":{"x":{"field":"d","type":"temporal","title":null,"scale":{"type":"utc","domain":[{"year":2019,"month":11,"date":1,"utc":true},{"year":2021,"month":11,"date":16,"utc":true}]},"axis":{"values":[{"year":2020,"month":1,"date":1,"utc":true},{"year":2020,"month":7,"date":1,"utc":true},{"year":2021,"month":1,"date":1,"utc":true},{"year":2021,"month":7,"date":1,"utc":true}],"labelExpr":"utcFormat(datum.value, '%Y-%m')","labelOverlap":false}},"y":{"field":"r","type":"quantitative","title":null,"scale":{"zero":false,"nice":false,"padding":2}}}},
{"mark":{"type":"line","color":"#111111","strokeWidth":1.4,"invalid":"break-paths-show-domains"},"encoding":{"x":{"field":"d","type":"temporal","title":null,"scale":{"type":"utc","domain":[{"year":2019,"month":11,"date":1,"utc":true},{"year":2021,"month":11,"date":16,"utc":true}]},"axis":{"values":[{"year":2020,"month":1,"date":1,"utc":true},{"year":2020,"month":7,"date":1,"utc":true},{"year":2021,"month":1,"date":1,"utc":true},{"year":2021,"month":7,"date":1,"utc":true}],"labelExpr":"utcFormat(datum.value, '%Y-%m')","labelOverlap":false}},"y":{"field":"k","type":"quantitative","title":null}}},
{"mark":{"type":"line","color":"#22c822","strokeWidth":1.1},"encoding":{"x":{"field":"d","type":"temporal","title":null,"scale":{"type":"utc","domain":[{"year":2019,"month":11,"date":1,"utc":true},{"year":2021,"month":11,"date":16,"utc":true}]},"axis":{"values":[{"year":2020,"month":1,"date":1,"utc":true},{"year":2020,"month":7,"date":1,"utc":true},{"year":2021,"month":1,"date":1,"utc":true},{"year":2021,"month":7,"date":1,"utc":true}],"labelExpr":"utcFormat(datum.value, '%Y-%m')","labelOverlap":false}},"y":{"field":"g","type":"quantitative","title":null}}},
{"transform":[{"aggregate":[{"op":"count","as":"n"}],"groupby":["p"]}],"mark":{"type":"rule","color":"#8080ff","strokeWidth":0.8,"strokeDash":[2,1.5]},"encoding":{"x":{"datum":{"year":2020,"month":2,"date":15,"utc":true},"type":"temporal","title":null,"scale":{"type":"utc","domain":[{"year":2019,"month":11,"date":1,"utc":true},{"year":2021,"month":11,"date":16,"utc":true}]},"axis":{"values":[{"year":2020,"month":1,"date":1,"utc":true},{"year":2020,"month":7,"date":1,"utc":true},{"year":2021,"month":1,"date":1,"utc":true},{"year":2021,"month":7,"date":1,"utc":true}],"labelExpr":"utcFormat(datum.value, '%Y-%m')","labelOverlap":false}}}}
]},
"config":{
"view":{"stroke":"#555555","strokeWidth":0.8},
"axis":{"labelFontSize":4.5,"labelFont":"Liberation Sans","labelColor":"#222222","tickSize":2,"tickColor":"#444444","tickWidth":0.5,"labelPadding":1,"domain":false,"grid":false},
"axisY":{"minExtent":16,"maxExtent":16,"tickCount":5},
"header":{"labelFontSize":5,"labelFont":"Liberation Sans","labelPadding":0,"labelColor":"#222222"}
}
}
